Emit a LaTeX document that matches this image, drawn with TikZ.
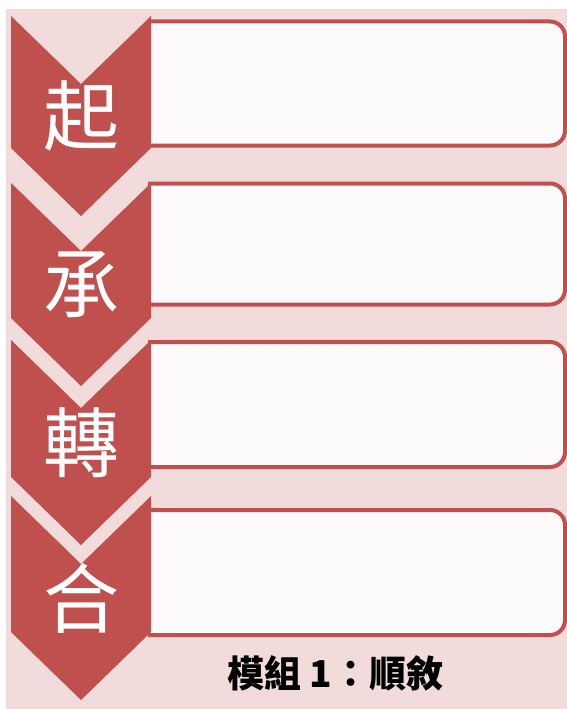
\documentclass[tikz,border=0pt]{standalone}
\usepackage{fontspec}
\newfontfamily\cjkfont{Noto Sans CJK TC}
\usepackage{tikz}
\definecolor{chevred}{HTML}{C0504D}
\definecolor{bgpink}{HTML}{F2DCDB}
\definecolor{boxfill}{HTML}{FDFAFB}

\begin{document}
\begin{tikzpicture} [x=1pt, y=-1pt,
    chev/.style={fill=chevred, draw=none},
    box/.style={draw=chevred, fill=boxfill, line width=4pt, rounded corners=15pt},
    stage/.style={text=white, inner sep=0pt, font=\cjkfont\fontsize{76}{76}\selectfont}]
    \useasboundingbox (0,0) rectangle (567,709);
    \fill [bgpink] (6,9) rectangle (567,709);

    % boxes, left side hidden under the chevrons
    \draw [box] (148,21.5) -- (565,21.5) -- (565,145.5) -- (148,145.5);
    \draw [box] (148,183.5) -- (565,183.5) -- (565,304.5) -- (148,304.5);
    \draw [box] (148,342) -- (565,342) -- (565,467) -- (148,467);
    \draw [box] (148,510) -- (565,510) -- (565,635) -- (148,635);

    \fill [chev] (11,16) -- (81,84) -- (151,16) -- (151,148) -- (81,216) -- (11,148) -- cycle;
    \fill [chev] (11,183) -- (81,251) -- (151,183) -- (151,318) -- (81,386) -- (11,318) -- cycle;
    \fill [chev] (11,340) -- (81,408) -- (151,340) -- (151,477) -- (81,545) -- (11,477) -- cycle;
    \fill [chev] (11,496) -- (81,564) -- (151,496) -- (151,632) -- (81,700) -- (11,632) -- cycle;

    \node (qi) [stage] at (81,116) {起};
    \node (cheng) [stage] at (81,285) {承};
    \node (zhuan) [stage] at (81,443) {轉};
    \node (he) [stage] at (81,598) {合};

    \node (title) [inner sep=0pt, font=\cjkfont\bfseries\fontsize{37}{37}\selectfont] at (335,673.5) {模組 1：順敘};
  \end{tikzpicture}
\end{document}
